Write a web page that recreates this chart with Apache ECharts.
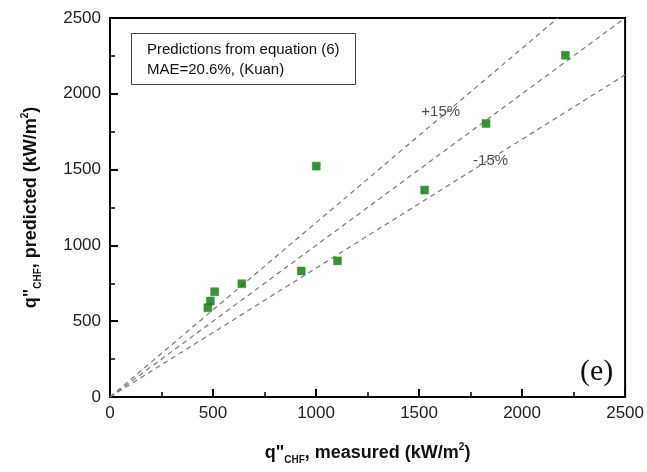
<!DOCTYPE html>
<html><head><meta charset="utf-8">
<script src="https://cdn.jsdelivr.net/npm/echarts@6/dist/echarts.min.js"></script>
<style>html,body{margin:0;padding:0;background:#fff}#c{width:647px;height:472px}</style>
</head><body><div id="c"></div>
<script>
var measured  = [475, 487, 508, 640, 928, 1001, 1104, 1527, 1825, 2210];
var predicted = [589, 633, 694, 747, 831, 1523, 898, 1365, 1804, 2254];
var linePlus  = [[0,0],[2174,2500]];
var lineEqual = [[0,0],[2500,2500]];
var lineMinus = [[0,0],[2500,2125]];
var lineLabels = [{text:'+15%', x:1605, y:1879}, {text:'-15%', x:1847, y:1556}];
var xTicks = [0,500,1000,1500,2000,2500];

var chart = echarts.init(document.getElementById('c'));
var pts = measured.map(function(v,i){return [v, predicted[i]];});
var dashStyle = {color:'#7a7a7a', width:1.2, type:[5,4]};
function dline(d){return {type:'line', data:d, symbol:'none', lineStyle:dashStyle, z:1, silent:true};}
var font = 'Arial, "Liberation Sans", sans-serif';
var nameRich = {
  b:{fontSize:18, fontWeight:'bold', fontFamily:font, color:'#111'},
  sub:{fontSize:10, fontWeight:'bold', fontFamily:font, color:'#111', padding:[13,0,0,0]},
  sup:{fontSize:10, fontWeight:'bold', fontFamily:font, color:'#111', padding:[0,0,13,0]}
};
function plain(v){return xTicks.indexOf(v)>=0 ? String(v) : '';}
chart.setOption({
  animation:false,
  grid:{left:110, right:20, top:18, bottom:75, show:true, borderColor:'#000', borderWidth:2, backgroundColor:'transparent'},
  xAxis:{type:'value', min:0, max:2500, interval:500,
    axisLine:{lineStyle:{color:'#000', width:2}},
    axisTick:{inside:true, length:8, lineStyle:{color:'#000', width:2}},
    minorTick:{show:true, splitNumber:2, length:5, lineStyle:{color:'#000', width:1.5}},
    splitLine:{show:false},
    axisLabel:{fontSize:17, color:'#222', fontFamily:font, margin:8, formatter:plain},
    name:'{b|q"}{sub|CHF}{b|, measured (kW/m}{sup|2}{b|)}', nameLocation:'middle', nameGap:45,
    nameTextStyle:{rich:nameRich}
  },
  yAxis:{type:'value', min:0, max:2500, interval:500,
    axisLine:{lineStyle:{color:'#000', width:2}},
    axisTick:{inside:true, length:8, lineStyle:{color:'#000', width:2}},
    minorTick:{show:true, splitNumber:2, length:5, lineStyle:{color:'#000', width:1.5}},
    splitLine:{show:false},
    axisLabel:{fontSize:17, color:'#222', fontFamily:font, margin:9, formatter:plain},
    name:'{b|q"}{sub|CHF}{b|, predicted (kW/m}{sup|2}{b|)}', nameLocation:'middle', nameGap:67,
    nameTextStyle:{rich:nameRich}
  },
  series:[
    dline(linePlus), dline(lineEqual), dline(lineMinus),
    {type:'scatter', data:lineLabels.map(function(o){return {value:[o.x,o.y], label:{formatter:o.text}};}),
     symbolSize:0, silent:true,
     label:{show:true, position:'inside', fontSize:15, color:'#222', fontFamily:font}},
    {type:'scatter', data:pts, symbol:'rect', symbolSize:8, z:5,
     itemStyle:{color:'#067506', borderColor:'#3a923a', borderWidth:0.6}}
  ],
  graphic:[
    {type:'rect', shape:{x:131.5, y:33.5, width:224, height:51}, style:{fill:'#fff', stroke:'#444', lineWidth:1}, z:10},
    {type:'text', x:147, y:42, style:{text:'Predictions from equation (6)', font:'15px '+font, fill:'#111'}, z:11},
    {type:'text', x:147, y:62, style:{text:'MAE=20.6%, (Kuan)', font:'15px '+font, fill:'#111'}, z:11},
    {type:'text', x:580, y:357, style:{text:'(e)', font:'30px "Liberation Serif", "Times New Roman", serif', fill:'#111'}, z:11}
  ]
});
</script></body></html>
